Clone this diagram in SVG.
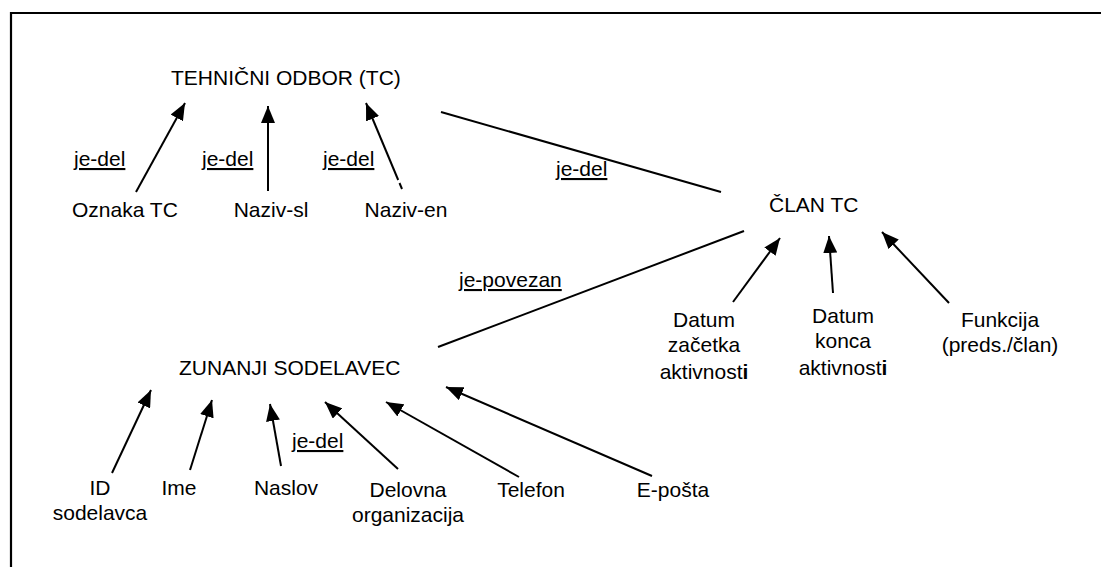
<svg xmlns="http://www.w3.org/2000/svg" width="1101" height="567" viewBox="0 0 1101 567">
  <style>
    text { font-family: "Liberation Sans", Arial, sans-serif; font-size: 21px; fill: #000; }
    .mid { text-anchor: middle; }
    .rel { text-decoration: underline; }
    .edge { stroke: #000; stroke-width: 2; fill: none; }
    .arrow { marker-end: url(#head); }
    .frame { stroke: #000; stroke-width: 2.2; fill: none; }
  </style>
  <defs>
    <marker id="head" markerUnits="userSpaceOnUse" markerWidth="18" markerHeight="14" refX="17" refY="7" orient="auto">
      <path d="M0,0 L17,7 L0,14 Z" fill="#000"/>
    </marker>
  </defs>

  <rect width="1101" height="567" fill="#fff"/>
  <!-- open frame: top and left borders -->
  <path class="frame" d="M11,567 L11,13 L1101,13"/>

  <!-- connectors -->
  <g id="connectors">
    <line class="edge arrow" x1="136" y1="192" x2="185" y2="103"/>
    <line class="edge arrow" x1="268" y1="191" x2="268" y2="106"/>
    <line class="edge arrow" x1="398.2" y1="180" x2="366" y2="103"/>
    <line class="edge" x1="402" y1="189" x2="399.5" y2="183"/>
    <line class="edge" x1="441" y1="112" x2="721" y2="192"/>
    <line class="edge" x1="438" y1="347" x2="744" y2="231"/>
    <line class="edge arrow" x1="733" y1="302" x2="780" y2="238"/>
    <line class="edge arrow" x1="833" y1="293" x2="829" y2="236"/>
    <line class="edge arrow" x1="949" y1="303" x2="882" y2="232"/>
    <line class="edge arrow" x1="112" y1="473" x2="151" y2="390"/>
    <line class="edge arrow" x1="190" y1="470" x2="212" y2="400"/>
    <line class="edge arrow" x1="281" y1="466" x2="270" y2="404"/>
    <line class="edge arrow" x1="398" y1="469" x2="325" y2="402"/>
    <line class="edge arrow" x1="519" y1="477" x2="386" y2="402"/>
    <line class="edge arrow" x1="652" y1="476" x2="446" y2="387"/>
  </g>

  <!-- relation labels -->
  <g id="labels">
    <text class="rel" x="74" y="166">je-del</text>
    <text class="rel" x="202" y="166">je-del</text>
    <text class="rel" x="323" y="166">je-del</text>
    <text class="rel" x="556" y="176">je-del</text>
    <text class="rel" x="459" y="287">je-povezan</text>
    <text class="rel" x="292" y="448">je-del</text>
  </g>

  <g id="tehnicni-odbor"><text x="171" y="85">TEHNIČNI ODBOR (TC)</text></g>
  <g id="oznaka-tc"><text x="72" y="217">Oznaka TC</text></g>
  <g id="naziv-sl"><text class="mid" x="271" y="217">Naziv-sl</text></g>
  <g id="naziv-en"><text class="mid" x="406" y="217">Naziv-en</text></g>
  <g id="clan-tc"><text x="769" y="212">ČLAN TC</text></g>

  <g id="datum-zacetka">
    <text class="mid" x="704" y="327">Datum</text>
    <text class="mid" x="704" y="352">začetka</text>
    <text class="mid" x="704" y="379">aktivnost<tspan font-weight="bold">i</tspan></text>
  </g>
  <g id="datum-konca">
    <text class="mid" x="843" y="323">Datum</text>
    <text class="mid" x="843" y="348">konca</text>
    <text class="mid" x="843" y="375">aktivnost<tspan font-weight="bold">i</tspan></text>
  </g>
  <g id="funkcija">
    <text class="mid" x="1000" y="327">Funkcija</text>
    <text class="mid" x="1000" y="352">(preds./član)</text>
  </g>

  <g id="zunanji-sodelavec"><text x="179" y="375">ZUNANJI SODELAVEC</text></g>
  <g id="id-sodelavca">
    <text class="mid" x="100" y="495">ID</text>
    <text class="mid" x="100" y="520">sodelavca</text>
  </g>
  <g id="ime"><text class="mid" x="179" y="495">Ime</text></g>
  <g id="naslov"><text class="mid" x="286" y="495">Naslov</text></g>
  <g id="delovna-organizacija">
    <text class="mid" x="408" y="497">Delovna</text>
    <text class="mid" x="408" y="522">organizacija</text>
  </g>
  <g id="telefon"><text class="mid" x="531" y="497">Telefon</text></g>
  <g id="e-posta"><text class="mid" x="673" y="497">E-pošta</text></g>
</svg>
